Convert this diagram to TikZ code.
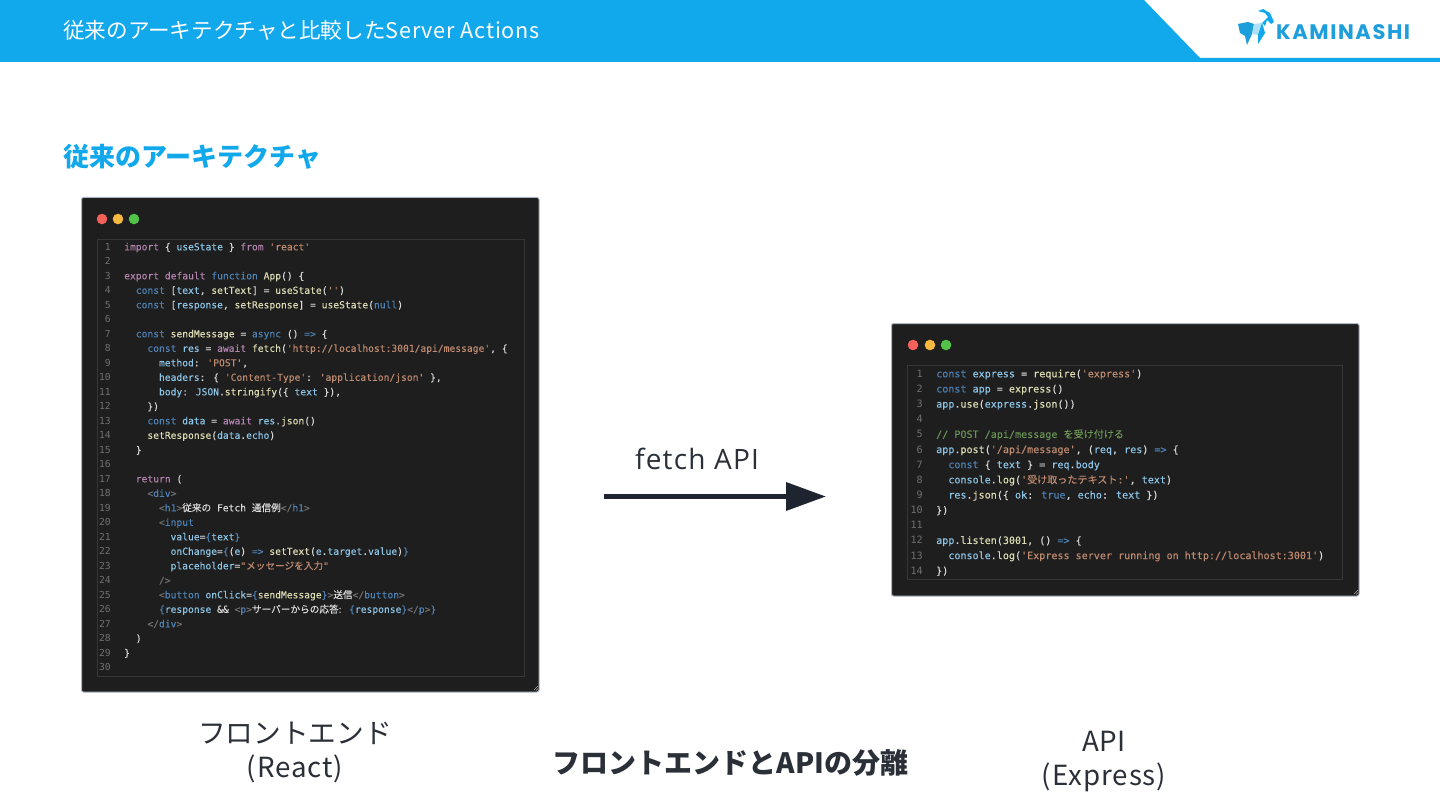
\documentclass[tikz,border=0pt]{standalone}
\usepackage{fontspec}
\setmainfont{Open Sans}
\newfontfamily\jpf{Noto Sans CJK JP}
\newfontfamily\codef{DejaVu Sans Mono}[FakeBold=0.12]
\newfontfamily\numf{DejaVu Sans Mono}
\newfontfamily\cjk{Noto Sans CJK JP}[FakeBold=0.12]
\newfontfamily\logof{Poppins}
\definecolor{brand}{HTML}{12A8EC}
\definecolor{logoblue}{HTML}{1E9FDC}
\definecolor{panel}{HTML}{1E1E1E}
\definecolor{inkc}{HTML}{2B3038}
\definecolor{arrowc}{HTML}{1E2530}
\definecolor{cK}{HTML}{B283AE}
\definecolor{cB}{HTML}{4F82B4}
\definecolor{cS}{HTML}{BE8A70}
\definecolor{cF}{HTML}{DCDCB4}
\definecolor{cV}{HTML}{8CC4E6}
\definecolor{cT}{HTML}{DADADA}
\definecolor{cC}{HTML}{6A9455}
\definecolor{cN}{HTML}{707070}
\definecolor{winedge}{HTML}{AEB6C4}
\definecolor{edgeed}{HTML}{363636}
\newcommand{\K}[1]{\textcolor{cK}{#1}}
\newcommand{\B}[1]{\textcolor{cB}{#1}}
\newcommand{\St}[1]{\textcolor{cS}{#1}}
\newcommand{\F}[1]{\textcolor{cF}{#1}}
\newcommand{\V}[1]{\textcolor{cV}{#1}}
\newcommand{\Cm}[1]{\textcolor{cC}{#1}}
\newcommand{\Tg}[1]{\textcolor{cN}{#1}}
\newcommand{\Ls}[1]{{\addfontfeatures{LetterSpace=3.5}#1}}
\tikzset{
  px/.style={x=1pt,y=-1pt},
  window/.style={fill=panel,draw=winedge,line width=1pt,rounded corners=2pt},
  editor/.style={draw=edgeed,line width=1.2pt},
  codeL/.style={anchor=base west,inner sep=0pt,text=cT,font=\codef\fontsize{9.65}{12}\selectfont},
  codeR/.style={anchor=base west,inner sep=0pt,text=cT,font=\codef\fontsize{10.07}{12}\selectfont},
  numL/.style={anchor=base east,inner sep=0pt,text=cN,font=\numf\fontsize{9.65}{12}\selectfont},
  numR/.style={anchor=base east,inner sep=0pt,text=cN,font=\numf\fontsize{10.07}{12}\selectfont},
  caption/.style={inner sep=0pt,align=center,text=inkc,font=\jpf\fontsize{27.7}{34.5}\selectfont},
}
\newcommand{\cdl}[3]{\node[codeL] (l#1) at (124+5.8*#2,{250.3+14.5*(#1-1)}) {#3};\node[numL] (ln#1) at (111,{250.3+14.5*(#1-1)}) {#1};}
\newcommand{\cdr}[3]{\node[codeR] (r#1) at (936+6.06*#2,{377.3+15.15*(#1-1)}) {#3};\node[numR] (rn#1) at (923,{377.3+15.15*(#1-1)}) {#1};}
\begin{document}
\begin{tikzpicture}[px]
\useasboundingbox (0,0) rectangle (1440,810);
\fill[white] (0,0) rectangle (1440,810);
% header
\fill[brand] (0,0) -- (1144,0) -- (1200,58) -- (1440,58) -- (1440,62) -- (0,62) -- cycle;
\node[anchor=west,inner sep=0pt,text=white] (title) at (63,30) {\jpf\fontsize{21.6}{26}\selectfont 従来のアーキテクチャと比較した\addfontfeatures{LetterSpace=3.7}Server Actions};
% logo
\fill[logoblue] (1238,24) -- (1248,22) -- (1254,24) -- (1252,34) -- (1247,45) -- (1245,36) -- (1240,33) -- cycle;
\fill[brand!35!white] (1254,24) -- (1262,23) -- (1265,33) -- (1258,35) -- (1252,34) -- cycle;
\fill[brand] (1262,23) -- (1265,33) -- (1258,44) -- (1258,35) -- cycle;
\fill[brand] (1262,23) -- (1268,17) -- (1265,13) -- (1258,11) -- (1263,9) -- (1270,13) -- (1274,22) -- (1271,24) -- (1267,20) -- (1265,26) -- cycle;
\node[anchor=west,inner sep=0pt,text=logoblue] (logo) at (1276,32.5) {\logof\fontsize{21}{24}\selectfont\bfseries\addfontfeatures{LetterSpace=7.5}KAMINASHI};
% heading
\node[anchor=west,inner sep=0pt,text=brand] (head) at (63,157) {\jpf\fontsize{26}{30}\selectfont\bfseries 従来のアーキテクチャ};
% left window
\node[window,minimum width=457.5pt,minimum height=494.5pt,inner sep=0pt,anchor=north west] (winL) at (81,197) {};
\foreach \xx/\cc in {102/F4605A,118/F5B840,134/52C248}{\definecolor{dot}{HTML}{\cc}\fill[dot] (\xx,219) circle (5.3);}
\node[editor,minimum width=426.5pt,minimum height=436.5pt,inner sep=0pt,anchor=north west] (edL) at (97,239) {};
\cdl{1}{0}{\K{import} \{ \V{useState} \} \K{from} \St{'react'}}
\cdl{2}{0}{}
\cdl{3}{0}{\K{export default} \B{function} \F{App}() \{}
\cdl{4}{2}{\B{const} [\V{text}, \F{setText}] = \F{useState}(\St{''})}
\cdl{5}{2}{\B{const} [\V{response}, \F{setResponse}] = \F{useState}(\B{null})}
\cdl{6}{0}{}
\cdl{7}{2}{\B{const} \F{sendMessage} = \B{async} () \B{=>} \{}
\cdl{8}{4}{\B{const} \V{res} = \K{await} \F{fetch}(\St{'http://localhost:3001/api/message'}, \{}
\cdl{9}{6}{\V{method}: \St{'POST'},}
\cdl{10}{6}{\V{headers}: \{ \St{'Content-Type'}: \St{'application/json'} \},}
\cdl{11}{6}{\V{body}: \V{JSON}.\F{stringify}(\{ \V{text} \}),}
\cdl{12}{4}{\})}
\cdl{13}{4}{\B{const} \V{data} = \K{await} \V{res}.\F{json}()}
\cdl{14}{4}{\F{setResponse}(\V{data}.\V{echo})}
\cdl{15}{2}{\}}
\cdl{16}{0}{}
\cdl{17}{2}{\K{return} (}
\cdl{18}{4}{\Tg{<}\B{div}\Tg{>}}
\cdl{19}{6}{\Tg{<}\B{h1}\Tg{>}{\cjk 従来の} Fetch {\cjk 通信例}\Tg{</}\B{h1}\Tg{>}}
\cdl{20}{6}{\Tg{<}\B{input}}
\cdl{21}{8}{\V{value}=\B{\{}\V{text}\B{\}}}
\cdl{22}{8}{\V{onChange}=\B{\{}(\V{e}) \B{=>} \F{setText}(\V{e}.\V{target}.\V{value})\B{\}}}
\cdl{23}{8}{\V{placeholder}=\St{"{\cjk メッセージを入力}"}}
\cdl{24}{6}{\Tg{/>}}
\cdl{25}{6}{\Tg{<}\B{button} \V{onClick}=\B{\{}\F{sendMessage}\B{\}}\Tg{>}{\cjk 送信}\Tg{</}\B{button}\Tg{>}}
\cdl{26}{6}{\B{\{}\V{response} \&\& \Tg{<}\B{p}\Tg{>}{\cjk サーバーからの応答:} \B{\{}\V{response}\B{\}}\Tg{</}\B{p}\Tg{>}\B{\}}}
\cdl{27}{4}{\Tg{</}\B{div}\Tg{>}}
\cdl{28}{2}{)}
\cdl{29}{0}{\}}
\cdl{30}{0}{}
\draw[gray!70,line width=.6pt] (534,690) -- (538,686) (536,690.5) -- (538,688.5);
% right window
\node[window,minimum width=467.5pt,minimum height=272.5pt,inner sep=0pt,anchor=north west] (winR) at (891,323) {};
\foreach \xx/\cc in {913/F4605A,930/F5B840,946/52C248}{\definecolor{dot}{HTML}{\cc}\fill[dot] (\xx,345) circle (5.3);}
\node[editor,minimum width=434.5pt,minimum height=213.5pt,inner sep=0pt,anchor=north west] (edR) at (907,365) {};
\cdr{1}{0}{\B{const} \V{express} = \F{require}(\St{'express'})}
\cdr{2}{0}{\B{const} \V{app} = \F{express}()}
\cdr{3}{0}{\V{app}.\F{use}(\V{express}.\F{json}())}
\cdr{4}{0}{}
\cdr{5}{0}{\Cm{// POST /api/message {\cjk を受け付ける}}}
\cdr{6}{0}{\V{app}.\F{post}(\St{'/api/message'}, (\V{req}, \V{res}) \B{=>} \{}
\cdr{7}{2}{\B{const} \{ \V{text} \} = \V{req}.\V{body}}
\cdr{8}{2}{\V{console}.\F{log}(\St{'{\cjk 受け取ったテキスト}:'}, \V{text})}
\cdr{9}{2}{\V{res}.\F{json}(\{ \V{ok}: \B{true}, \V{echo}: \V{text} \})}
\cdr{10}{0}{\})}
\cdr{11}{0}{}
\cdr{12}{0}{\V{app}.\F{listen}(\textcolor{cF}{3001}, () \B{=>} \{}
\cdr{13}{2}{\V{console}.\F{log}(\St{'Express server running on http://localhost:3001'})}
\cdr{14}{0}{\})}
\draw[gray!70,line width=.6pt] (1354,594) -- (1358,590) (1356,594.5) -- (1358,592.5);
% arrow
\coordinate (arrS) at (604,496.5);
\coordinate (arrE) at (825.5,496.5);
\node[inner sep=0pt,text=inkc,anchor=base] (fetch) at (697,469) {\fontsize{28}{34}\selectfont\addfontfeatures{LetterSpace=4.4}fetch API};
\draw[arrowc,line width=5pt] (arrS) -- (786,496.5);
\fill[arrowc] (786,482) -- (arrE) -- (786,511) -- cycle;
% captions
\node[caption] (capL) at (295,752.5) {フロントエンド\\\Ls{(React)}};
\node[caption] (capR) at (1104,761.5) {API\\\Ls{(Express)}};
\node[caption,text=inkc,font=\jpf\fontsize{28}{34}\selectfont\bfseries] (capM) at (730.5,763) {フロントエンドとAPIの分離};
\end{tikzpicture}
\end{document}
